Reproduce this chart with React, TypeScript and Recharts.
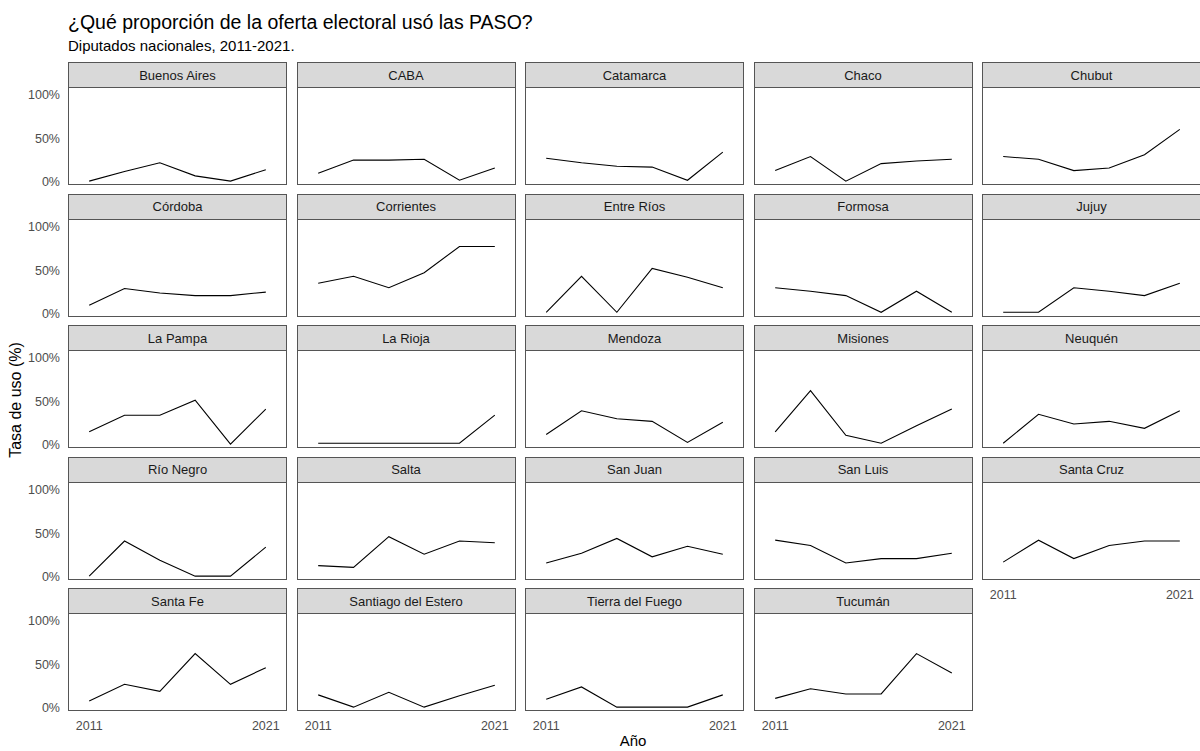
import React from 'react';
import { LineChart, Line, XAxis, YAxis } from 'recharts';

const years = [2011, 2013, 2015, 2017, 2019, 2021];
const xTicks = [2011, 2021];
const yTicks = [0, 0.5, 1];

const provinces = [
  'Buenos Aires', 'CABA', 'Catamarca', 'Chaco', 'Chubut',
  'Córdoba', 'Corrientes', 'Entre Ríos', 'Formosa', 'Jujuy',
  'La Pampa', 'La Rioja', 'Mendoza', 'Misiones', 'Neuquén',
  'Río Negro', 'Salta', 'San Juan', 'San Luis', 'Santa Cruz',
  'Santa Fe', 'Santiago del Estero', 'Tierra del Fuego', 'Tucumán',
];

const buenosAires = [0.01, 0.12, 0.22, 0.07, 0.01, 0.14];
const caba = [0.10, 0.25, 0.25, 0.26, 0.02, 0.16];
const catamarca = [0.27, 0.22, 0.18, 0.17, 0.02, 0.34];
const chaco = [0.13, 0.29, 0.01, 0.21, 0.24, 0.26];
const chubut = [0.29, 0.26, 0.13, 0.16, 0.31, 0.60];
const cordoba = [0.10, 0.29, 0.24, 0.21, 0.21, 0.25];
const corrientes = [0.35, 0.43, 0.30, 0.47, 0.77, 0.77];
const entreRios = [0.02, 0.43, 0.02, 0.52, 0.42, 0.30];
const formosa = [0.30, 0.26, 0.21, 0.02, 0.26, 0.02];
const jujuy = [0.02, 0.02, 0.30, 0.26, 0.21, 0.35];
const laPampa = [0.15, 0.34, 0.34, 0.51, 0.01, 0.41];
const laRioja = [0.02, 0.02, 0.02, 0.02, 0.02, 0.34];
const mendoza = [0.12, 0.39, 0.30, 0.27, 0.03, 0.26];
const misiones = [0.15, 0.62, 0.11, 0.02, 0.22, 0.41];
const neuquen = [0.02, 0.35, 0.24, 0.27, 0.19, 0.39];
const rioNegro = [0.01, 0.41, 0.19, 0.01, 0.01, 0.34];
const salta = [0.13, 0.11, 0.46, 0.26, 0.41, 0.39];
const sanJuan = [0.16, 0.27, 0.44, 0.23, 0.35, 0.26];
const sanLuis = [0.42, 0.36, 0.16, 0.21, 0.21, 0.27];
const santaCruz = [0.17, 0.42, 0.21, 0.36, 0.41, 0.41];
const santaFe = [0.08, 0.27, 0.19, 0.62, 0.27, 0.46];
const santiagoDelEstero = [0.15, 0.01, 0.18, 0.01, 0.14, 0.26];
const tierraDelFuego = [0.10, 0.24, 0.01, 0.01, 0.01, 0.15];
const tucuman = [0.11, 0.22, 0.16, 0.16, 0.62, 0.40];

const series = [
  buenosAires, caba, catamarca, chaco, chubut,
  cordoba, corrientes, entreRios, formosa, jujuy,
  laPampa, laRioja, mendoza, misiones, neuquen,
  rioNegro, salta, sanJuan, sanLuis, santaCruz,
  santaFe, santiagoDelEstero, tierraDelFuego, tucuman,
];

const FONT = '"Liberation Sans", Arial, Helvetica, sans-serif';
const COL0 = 68;
const COL_PITCH = 228.5;
const PW = 219;
const ROW0 = 62;
const ROW_PITCH = 131.5;
const STRIP_H = 26;
const PH = 98;
const Y_W = 60;
const X_H = 26;
const PAD_B = 10;
const BORDER = '#555555';

function Panel({ name, values, col, row, showY, showX }: any) {
  const left = COL0 + col * COL_PITCH;
  const stripTop = ROW0 + row * ROW_PITCH;
  const plotTop = stripTop + STRIP_H - 1;
  const yW = showY ? Y_W : 0;
  const xH = showX ? X_H : PAD_B;
  const data = years.map((y, i) => ({ year: y, value: values[i] }));
  return (
    <>
      <div
        style={{
          position: 'absolute', left, top: stripTop, width: PW, height: STRIP_H,
          boxSizing: 'border-box', border: `1px solid ${BORDER}`, background: '#D9D9D9',
          fontSize: 13, color: '#1A1A1A', display: 'flex', alignItems: 'center',
          justifyContent: 'center', lineHeight: 1,
        }}
      >
        {name}
      </div>
      <div
        style={{
          position: 'absolute', left, top: plotTop, width: PW, height: PH,
          boxSizing: 'border-box', border: `1px solid ${BORDER}`, background: '#fff',
        }}
      />
      <div style={{ position: 'absolute', left: left - yW, top: plotTop }}>
        <LineChart
          width={PW + yW}
          height={PH + xH}
          data={data}
          margin={{ top: 0, right: 0, bottom: showX ? 0 : PAD_B, left: 0 }}
        >
          <XAxis
            dataKey="year"
            type="number"
            domain={[2009.8, 2022.2]}
            ticks={xTicks}
            interval={0}
            hide={!showX}
            height={X_H}
            axisLine={false}
            tickLine={false}
            tickMargin={4}
            tick={{ fill: '#4D4D4D', fontSize: 12.5, fontFamily: FONT }}
            allowDataOverflow
          />
          <YAxis
            type="number"
            domain={[-0.034, 1.083]}
            ticks={yTicks}
            interval={0}
            hide={!showY}
            width={Y_W}
            axisLine={false}
            tickLine={false}
            tick={{ fill: '#4D4D4D', fontSize: 12.5, fontFamily: FONT }}
            tickFormatter={(v: number) => `${Math.round(v * 100)}%`}
            allowDataOverflow
          />
          <Line
            dataKey="value"
            type="linear"
            stroke="#000"
            strokeWidth={1.1}
            dot={false}
            activeDot={false}
            isAnimationActive={false}
          />
        </LineChart>
      </div>
    </>
  );
}

export default function App() {
  return (
    <div
      style={{
        position: 'absolute', left: 0, top: 0, width: 1200, height: 751,
        background: '#fff', fontFamily: FONT, overflow: 'hidden',
      }}
    >
      <div style={{ position: 'absolute', left: 68, top: 12.5, fontSize: 19.5, lineHeight: 1, color: '#000' }}>
        ¿Qué proporción de la oferta electoral usó las PASO?
      </div>
      <div style={{ position: 'absolute', left: 68, top: 38, fontSize: 15, lineHeight: 1, color: '#000' }}>
        Diputados nacionales, 2011-2021.
      </div>
      {provinces.map((name, i) => {
        const col = i % 5;
        const row = Math.floor(i / 5);
        const showY = col === 0;
        const showX = row === 4 || (row === 3 && col === 4);
        return (
          <Panel key={name} name={name} values={series[i]} col={col} row={row} showY={showY} showX={showX} />
        );
      })}
      <div
        style={{
          position: 'absolute', left: 16, top: 400, fontSize: 16, lineHeight: 1, color: '#000',
          transform: 'translate(-50%, -50%) rotate(-90deg)', whiteSpace: 'nowrap',
        }}
      >
        Tasa de uso (%)
      </div>
      <div
        style={{
          position: 'absolute', left: 633, top: 740.5, fontSize: 15, lineHeight: 1.15, color: '#000',
          transform: 'translate(-50%, -50%)', whiteSpace: 'nowrap',
        }}
      >
        Año
      </div>
    </div>
  );
}
